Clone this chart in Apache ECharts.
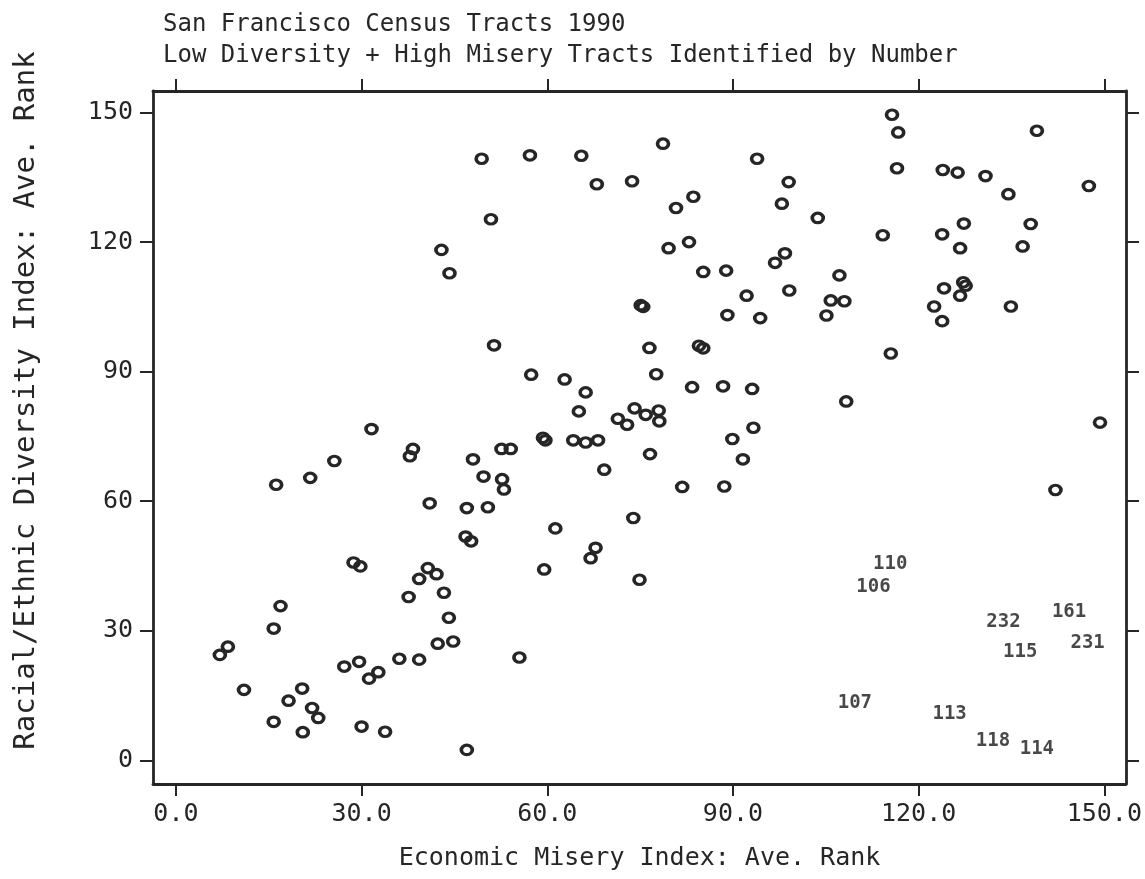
<!DOCTYPE html>
<html>
<head>
<meta charset="utf-8">
<script src="https://cdn.jsdelivr.net/npm/echarts@6/dist/echarts.min.js"></script>
<style>
  html, body { margin: 0; padding: 0; background: #ffffff; }
  #chart { width: 1145px; height: 879px; }
</style>
</head>
<body>
<div id="chart"></div>
<script>
// Economic Misery Index (x) and Racial/Ethnic Diversity Index (y), average ranks
const miseryIndex = [
  49.4, 57.2, 50.9, 42.9, 44.2, 51.4, 57.4, 65.5, 78.7, 68.0,
  73.7, 83.6, 80.8, 93.9, 99.0, 97.9, 103.7, 115.7, 116.7, 116.5,
  123.9, 126.3, 114.2, 123.8, 126.7, 79.6, 82.9, 85.2, 88.9, 96.8,
  98.4, 92.2, 99.1, 89.1, 94.4, 107.2, 105.8, 108.0, 105.1, 124.1,
  122.5, 123.8, 126.7, 127.2, 127.6, 75.1, 75.5, 76.5, 84.5, 85.2,
  115.5, 62.8, 66.2, 65.1, 77.6, 83.4, 88.4, 93.1, 108.3, 74.1,
  75.9, 78.0, 78.1, 71.4, 72.9, 93.3, 139.1, 130.8, 134.5, 147.5,
  127.3, 138.1, 136.8, 134.9, 149.3, 64.2, 66.2, 68.2, 69.2, 76.6,
  89.9, 91.6, 81.8, 88.6, 73.9, 67.8, 67.0, 74.9, 142.1, 31.6,
  25.6, 21.7, 16.2, 38.3, 37.8, 48.0, 49.7, 52.6, 54.1, 59.3,
  59.7, 52.7, 53.0, 41.0, 47.0, 50.4, 61.3, 46.8, 47.7, 28.7,
  29.8, 40.7, 42.1, 39.3, 43.3, 37.6, 44.1, 59.5, 16.9, 15.8,
  8.4, 7.1, 42.3, 44.8, 11.0, 27.2, 29.6, 31.2, 32.7, 36.1,
  39.3, 55.5, 20.4, 18.2, 22.0, 23.0, 15.8, 20.5, 30.0, 33.8,
  47.0
];
const diversityIndex = [
  139.3, 140.1, 125.3, 118.2, 112.8, 96.1, 89.3, 140.0, 142.8, 133.4,
  134.1, 130.5, 127.9, 139.3, 133.9, 128.9, 125.6, 149.5, 145.4, 137.1,
  136.7, 136.1, 121.6, 121.8, 118.6, 118.6, 120.0, 113.1, 113.4, 115.2,
  117.4, 107.6, 108.8, 103.1, 102.4, 112.3, 106.5, 106.3, 103.0, 109.3,
  105.1, 101.7, 107.6, 110.7, 109.9, 105.4, 105.0, 95.5, 96.0, 95.4,
  94.2, 88.2, 85.2, 80.8, 89.4, 86.4, 86.6, 86.0, 83.1, 81.5,
  80.0, 81.0, 78.5, 79.1, 77.7, 77.0, 145.8, 135.3, 131.1, 133.0,
  124.3, 124.2, 119.0, 105.1, 78.2, 74.1, 73.6, 74.1, 67.3, 70.9,
  74.4, 69.7, 63.3, 63.4, 56.1, 49.2, 46.8, 41.8, 62.6, 76.7,
  69.3, 65.4, 63.8, 72.1, 70.4, 69.7, 65.7, 72.1, 72.1, 74.7,
  74.1, 65.1, 62.7, 59.5, 58.4, 58.6, 53.7, 51.8, 50.7, 45.8,
  44.9, 44.5, 43.1, 42.0, 38.8, 37.8, 33.0, 44.2, 35.7, 30.5,
  26.3, 24.4, 27.0, 27.5, 16.3, 21.7, 22.8, 18.9, 20.4, 23.5,
  23.3, 23.8, 16.6, 13.8, 12.1, 9.8, 8.9, 6.5, 7.8, 6.6,
  2.4
];

// Low diversity + high misery tracts, identified by number
const tractIds       = ['110', '106', '107', '113', '161', '232', '231', '115', '118', '114'];
const tractMisery    = [115.4, 112.7, 109.7, 125.0, 144.3, 133.7, 147.3, 136.4, 132.0, 139.1];
const tractDiversity = [45.5, 40.2, 13.3, 10.6, 34.4, 31.9, 27.2, 25.0, 4.5, 2.6];

const xTicks = [0, 30, 60, 90, 120, 150];
const yTicks = [0, 30, 60, 90, 120, 150];

const ink = '#262626';
const mono = '"DejaVu Sans Mono", "Liberation Mono", monospace';

const circlePoints = miseryIndex.map((x, i) => [x, diversityIndex[i]]);
const tractPoints = tractIds.map((id, i) => [tractMisery[i], tractDiversity[i], id]);

const chart = echarts.init(document.getElementById('chart'), null, { renderer: 'canvas' });

const axisLineStyle = { show: true, onZero: false, lineStyle: { color: ink, width: 2.8 } };
const tickStyle = { lineStyle: { color: ink, width: 2 } };

chart.setOption({
  backgroundColor: '#ffffff',
  animation: false,
  title: {
    text: 'San Francisco Census Tracts 1990\nLow Diversity + High Misery Tracts Identified by Number',
    left: 158,
    top: 4,
    textStyle: { fontFamily: mono, fontSize: 24, fontWeight: 'normal', color: ink, lineHeight: 31 }
  },
  grid: { left: 153, right: 19, top: 91, bottom: 95, containLabel: false },
  xAxis: [
    {
      type: 'value', position: 'bottom', min: -3.7, max: 153.5,
      name: 'Economic Misery Index: Ave. Rank',
      nameLocation: 'middle', nameGap: 62,
      nameTextStyle: { fontFamily: mono, fontSize: 25, color: ink },
      axisLine: axisLineStyle,
      axisTick: Object.assign({ show: true, inside: false, length: 12, customValues: xTicks }, tickStyle),
      axisLabel: {
        show: true, customValues: xTicks, margin: 18,
        fontFamily: mono, fontSize: 25, color: ink,
        formatter: v => v.toFixed(1)
      },
      splitLine: { show: false }
    },
    {
      type: 'value', position: 'top', min: -3.7, max: 153.5,
      axisLine: axisLineStyle,
      axisTick: Object.assign({ show: true, inside: false, length: 12, customValues: xTicks }, tickStyle),
      axisLabel: { show: false },
      splitLine: { show: false }
    }
  ],
  yAxis: [
    {
      type: 'value', position: 'left', min: -5.5, max: 155,
      name: 'Racial/Ethnic Diversity Index: Ave. Rank',
      nameLocation: 'middle', nameGap: 112, nameRotate: 90,
      nameTextStyle: { fontFamily: mono, fontSize: 29, color: ink, padding: [0, 0, 0, 74] },
      axisLine: axisLineStyle,
      axisTick: Object.assign({ show: true, inside: false, length: 13, customValues: yTicks }, tickStyle),
      axisLabel: {
        show: true, customValues: yTicks, margin: 20,
        fontFamily: mono, fontSize: 25, color: ink
      },
      splitLine: { show: false }
    },
    {
      type: 'value', position: 'right', min: -5.5, max: 155,
      axisLine: axisLineStyle,
      axisTick: Object.assign({ show: true, inside: false, length: 13, customValues: yTicks }, tickStyle),
      axisLabel: { show: false },
      splitLine: { show: false }
    }
  ],
  series: [
    {
      name: 'Tracts',
      type: 'scatter',
      xAxisIndex: 0, yAxisIndex: 0,
      data: circlePoints,
      symbol: 'circle',
      symbolSize: [11, 9.5],
      itemStyle: { color: 'rgba(255,255,255,0)', borderColor: ink, borderWidth: 3.4, opacity: 1 },
      emphasis: { disabled: true }
    },
    {
      name: 'Identified tracts',
      type: 'scatter',
      xAxisIndex: 0, yAxisIndex: 0,
      data: tractPoints,
      symbol: 'circle',
      symbolSize: 1,
      itemStyle: { color: 'rgba(255,255,255,0)' },
      label: {
        show: true, position: 'inside',
        formatter: p => p.value[2],
        fontFamily: mono, fontSize: 19, fontWeight: 'bold', color: '#1a1a1a'
      },
      emphasis: { disabled: true }
    }
  ]
});
</script>
</body>
</html>
